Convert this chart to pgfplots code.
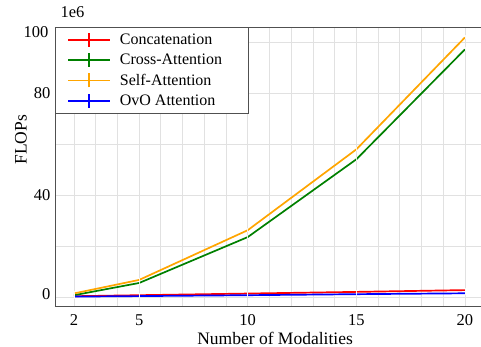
\documentclass[border=0pt]{standalone}
\usepackage{fontspec}
\setmainfont{Liberation Serif}
\usepackage{pgfplots}
\pgfplotsset{compat=1.18}
\definecolor{mplred}{RGB}{255,0,0}
\definecolor{mplgreen}{RGB}{0,128,0}
\definecolor{mplorange}{RGB}{255,165,0}
\definecolor{mplblue}{RGB}{0,0,255}
\definecolor{gridc}{RGB}{225,225,225}
\definecolor{framec}{RGB}{80,80,80}
\newcommand\tickf{\fontsize{16.5}{19}\selectfont}
\newcommand\legf{\fontsize{16}{19}\selectfont}
\newcommand\labf{\fontsize{17.5}{21}\selectfont}
\pgfplotsset{legimg/.style={legend image code/.code={
    \draw[#1, line width=1.6pt] (0pt,0pt) -- (42pt,0pt);
    \draw[#1, line width=1.4pt] (21pt,-7pt) -- (21pt,7pt);}}}
\begin{document}
\begin{tikzpicture}[x=1pt,y=1pt]
\path[use as bounding box] (0,0) rectangle (481,347);
\begin{axis}[
  at={(55pt,40.5pt)}, anchor=south west,
  scale only axis, width=427.3pt, height=279.5pt,
  xmin=1.125, xmax=20.8, ymin=-3.73, ymax=105.9,
  axis y line*=left, axis x line*=box,
  axis line style={framec, line width=0.9pt},
  xtick={2,...,20},
  xticklabels={2,,,5,,,,,10,,,,,15,,,,,20},
  ytick={0,20,40,60,80,100},
  yticklabels={\raisebox{6pt}{0},,40,,80,},
  major tick length=0pt,
  grid=major,
  grid style={gridc, line width=0.8pt},
  /pgf/number format/assume math mode=true,
  tick label style={font=\tickf, black},
  label style={font=\labf},
  xlabel={Number of Modalities},
  ylabel={FLOPs},
  xlabel style={at={(rel axis cs:0.515,0)}, anchor=center, yshift=-31.5pt},
  ylabel style={at={(rel axis cs:0,0.596)}, anchor=center, yshift=34pt},
  xticklabel style={anchor=center, yshift=-13.5pt},
  yticklabel style={xshift=-1pt},
  legend style={at={(0,1)}, anchor=north west, draw=framec, line width=0.6pt,
    font=\legf, nodes={font=\legf}, inner xsep=12pt, inner ysep=4.5pt,
    row sep=4pt, fill=white,
    /tikz/every odd column/.append style={column sep=7pt}},
  legend cell align=left,
  every axis plot/.append style={line width=1.7pt, mark=|, mark size=2pt,
    mark options={white, line width=0.6pt, opacity=0.8}},
  clip=false,
]
\addplot[mplred, legimg=mplred] coordinates {(2,0.3) (5,0.7) (10,1.35) (15,2.0) (20,2.7)};
\addlegendentry{Concatenation}
\addplot[mplgreen, legimg=mplgreen] coordinates {(2,0.7) (5,5.5) (10,23.5) (15,54.0) (20,97.1)};
\addlegendentry{Cross-Attention\hspace*{12pt}}
\addplot[mplorange, legimg=mplorange] coordinates {(2,1.4) (5,6.7) (10,26.2) (15,57.9) (20,101.8)};
\addlegendentry{Self-Attention}
\addplot[mplblue, legimg=mplblue] coordinates {(2,0.15) (5,0.35) (10,0.7) (15,1.1) (20,1.45)};
\addlegendentry{OvO Attention}
\node[font=\tickf, anchor=east] at (rel axis cs:0,1) [xshift=-3pt, yshift=-5pt] {100};
\node[font=\tickf, anchor=base west] at (rel axis cs:0,1) [xshift=2pt, yshift=9pt] {1e6};
\end{axis}
\end{tikzpicture}
\end{document}
